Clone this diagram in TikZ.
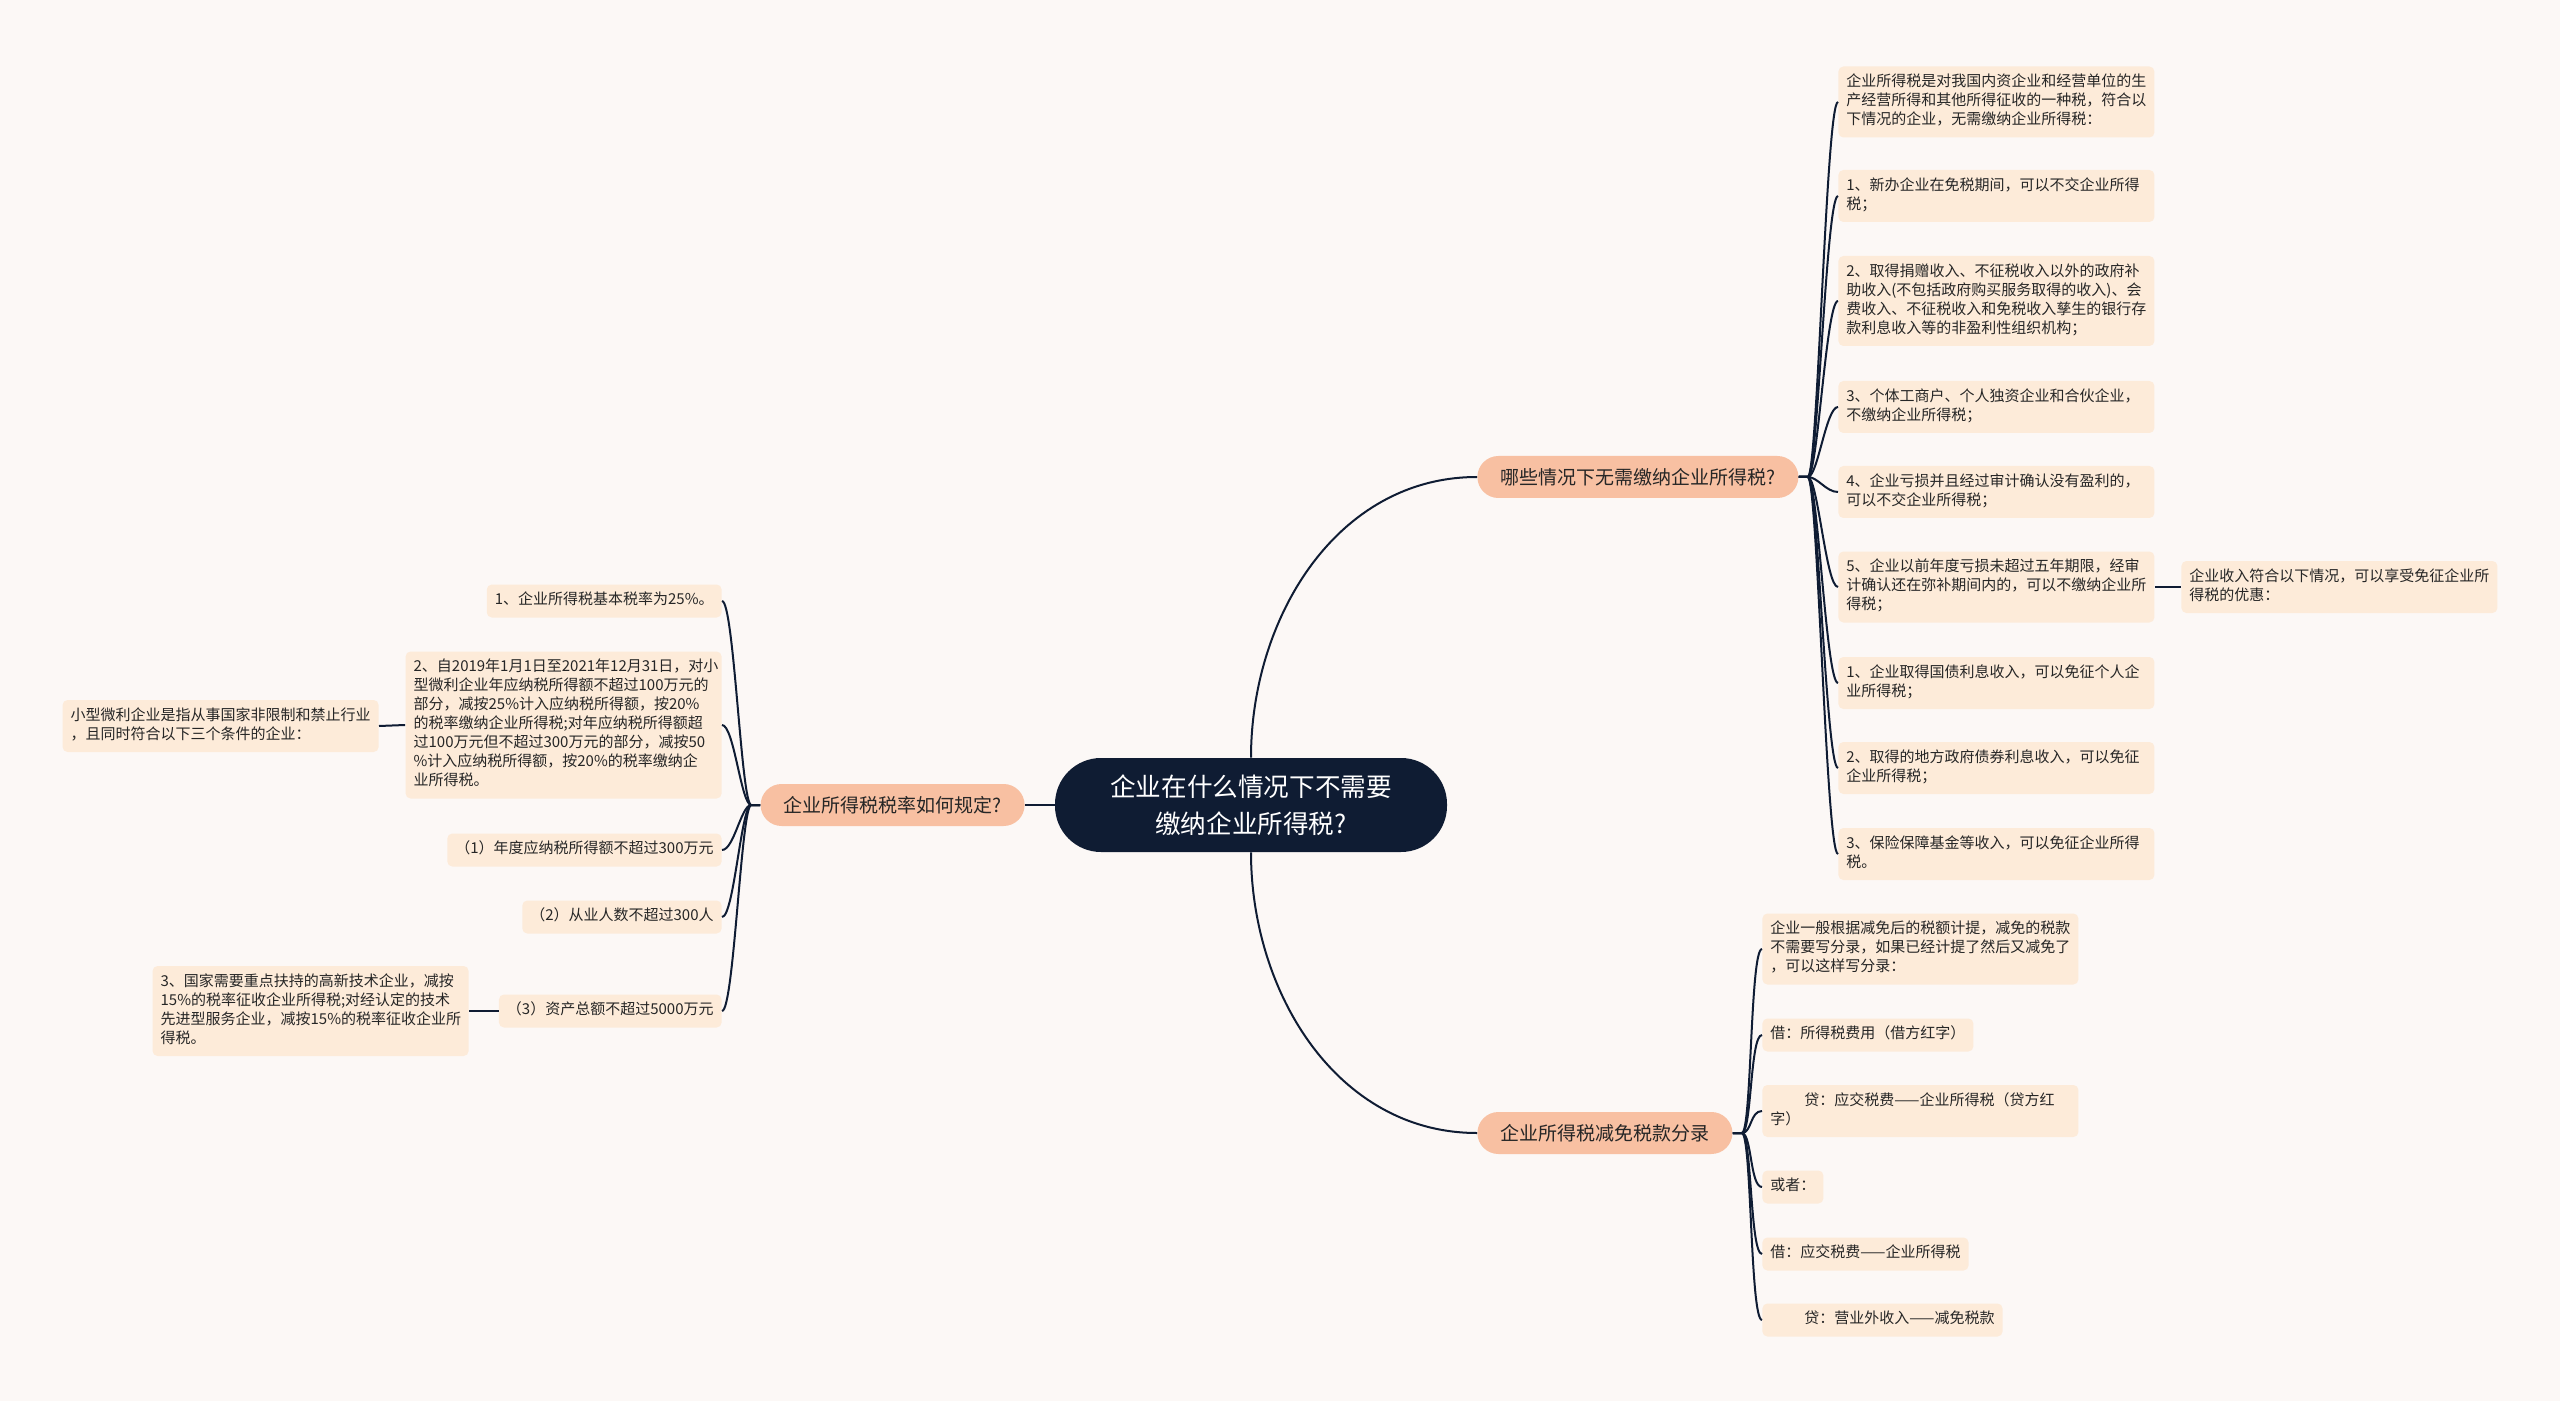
\documentclass[tikz,border=0pt]{standalone}
\usepackage{fontspec}
\setmainfont{Noto Sans CJK SC}
\usepackage{xcolor}
\definecolor{bgc}{HTML}{FCF8F6}
\definecolor{rootc}{HTML}{0F1C33}
\definecolor{topicc}{HTML}{F8C0A2}
\definecolor{leafc}{HTML}{FDEBD9}
\definecolor{linec}{HTML}{0F1C33}
\definecolor{textc}{HTML}{262626}
\newcommand\rootfont{\fontsize{12.8pt}{18.5pt}\selectfont}
\newcommand\topicfont{\fontsize{9.5pt}{12pt}\selectfont}
\newcommand\leaffont{\fontsize{7.5pt}{9.5pt}\selectfont}
\tikzset{
  rootnode/.style={fill=rootc,text=white,font=\rootfont,align=center,minimum width=196pt,minimum height=47pt,rounded corners=23pt},
  topicnode/.style={fill=topicc,text=textc,font=\topicfont,minimum height=21pt,inner xsep=11.5pt,rounded corners=10.5pt},
  leafnode/.style={fill=leafc,text=textc,font=\leaffont,align=left,inner xsep=4pt,inner ysep=3.5pt,rounded corners=2.5pt,
    execute at begin node=\strut,execute at end node=\strut},
  wideleaf/.style={leafnode,text width=150pt},
  link/.style={draw=linec,line width=1pt},
  every edge/.style={link},
  toright/.style={to path={-- ++(9,0) .. controls +(10,0) and +(-12,0) .. (\tikztotarget)}},
  toleft/.style={to path={-- ++(-9,0) .. controls +(-10,0) and +(12,0) .. (\tikztotarget)}},
}

\begin{document}
\begin{tikzpicture}[x=0.5pt,y=-0.5pt]

\fill[bgc] (0,0) rectangle (2560,1401);
\useasboundingbox (0,0) rectangle (2560,1401);

\node[rootnode] (root) at (1251,805) {企业在什么情况下不需要\\缴纳企业所得税?};
\node[topicnode,anchor=west] (why) at (1477,477) {哪些情况下无需缴纳企业所得税?};
\node[topicnode,anchor=east] (rate) at (1025,805) {企业所得税税率如何规定?};
\node[topicnode,anchor=west] (entry) at (1477,1133) {企业所得税减免税款分录};

% right, upper branch
\node[wideleaf,anchor=west] (w1) at (1838,102) {企业所得税是对我国内资企业和经营单位的生\\产经营所得和其他所得征收的一种税，符合以\\下情况的企业，无需缴纳企业所得税：};
\node[wideleaf,anchor=west] (w2) at (1838,196) {1、新办企业在免税期间，可以不交企业所得\\税；};
\node[wideleaf,anchor=west] (w3) at (1838,301) {2、取得捐赠收入、不征税收入以外的政府补\\助收入(不包括政府购买服务取得的收入)、会\\费收入、不征税收入和免税收入孳生的银行存\\款利息收入等的非盈利性组织机构；};
\node[wideleaf,anchor=west] (w4) at (1838,407) {3、个体工商户、个人独资企业和合伙企业，\\不缴纳企业所得税；};
\node[wideleaf,anchor=west] (w5) at (1838,492) {4、企业亏损并且经过审计确认没有盈利的，\\可以不交企业所得税；};
\node[wideleaf,anchor=west] (w6) at (1838,587) {5、企业以前年度亏损未超过五年期限，经审\\计确认还在弥补期间内的，可以不缴纳企业所\\得税；};
\node[wideleaf,anchor=west] (w6a) at (2181,587) {企业收入符合以下情况，可以享受免征企业所\\得税的优惠：};
\node[wideleaf,anchor=west] (w7) at (1838,683) {1、企业取得国债利息收入，可以免征个人企\\业所得税；};
\node[wideleaf,anchor=west] (w8) at (1838,768) {2、取得的地方政府债券利息收入，可以免征\\企业所得税；};
\node[wideleaf,anchor=west] (w9) at (1838,854) {3、保险保障基金等收入，可以免征企业所得\\税。};

% left branch
\node[leafnode,anchor=east] (r1) at (722,601) {1、企业所得税基本税率为25\%。};
\node[wideleaf,anchor=east] (r2) at (722,725) {2、自2019年1月1日至2021年12月31日，对小\\型微利企业年应纳税所得额不超过100万元的\\部分，减按25\%计入应纳税所得额，按20\%\\的税率缴纳企业所得税;对年应纳税所得额超\\过100万元但不超过300万元的部分，减按50\\\%计入应纳税所得额，按20\%的税率缴纳企\\业所得税。};
\node[wideleaf,anchor=east] (r2a) at (379,726) {小型微利企业是指从事国家非限制和禁止行业\\，且同时符合以下三个条件的企业：};
\node[leafnode,anchor=east] (r3) at (722,850) {（1）年度应纳税所得额不超过300万元};
\node[leafnode,anchor=east] (r4) at (722,917) {（2）从业人数不超过300人};
\node[leafnode,anchor=east] (r5) at (722,1011) {（3）资产总额不超过5000万元};
\node[wideleaf,anchor=east] (r5a) at (469,1011) {3、国家需要重点扶持的高新技术企业，减按\\15\%的税率征收企业所得税;对经认定的技术\\先进型服务企业，减按15\%的税率征收企业所\\得税。};

% right, lower branch
\node[wideleaf,anchor=west] (e1) at (1762,949) {企业一般根据减免后的税额计提，减免的税款\\不需要写分录，如果已经计提了然后又减免了\\，可以这样写分录：};
\node[leafnode,anchor=west] (e2) at (1762,1035) {借：所得税费用（借方红字）};
\node[wideleaf,anchor=west] (e3) at (1762,1111) {\hspace*{17pt}贷：应交税费——企业所得税（贷方红\\字）};
\node[leafnode,anchor=west] (e4) at (1762,1187) {或者：};
\node[leafnode,anchor=west] (e5) at (1762,1254) {借：应交税费——企业所得税};
\node[leafnode,anchor=west] (e6) at (1762,1320) {\hspace*{17pt}贷：营业外收入——减免税款};

\draw[link] (root.north) .. controls +(0,-140) and +(-140,0) .. (why.west);
\draw[link] (root.south) .. controls +(0,140) and +(-140,0) .. (entry.west);
\draw[link] (root.west) -- (rate.east);

\path (why.east)
  edge[toright] (w1.west) edge[toright] (w2.west) edge[toright] (w3.west)
  edge[toright] (w4.west) edge[toright] (w5.west) edge[toright] (w6.west)
  edge[toright] (w7.west) edge[toright] (w8.west) edge[toright] (w9.west);
\path (rate.west)
  edge[toleft] (r1.east) edge[toleft] (r2.east) edge[toleft] (r3.east)
  edge[toleft] (r4.east) edge[toleft] (r5.east);
\path (entry.east)
  edge[toright] (e1.west) edge[toright] (e2.west) edge[toright] (e3.west)
  edge[toright] (e4.west) edge[toright] (e5.west) edge[toright] (e6.west);

\draw[link] (w6.east) -- (w6a.west);
\draw[link] (r2.west) -- (r2a.east);
\draw[link] (r5.west) -- (r5a.east);

\end{tikzpicture}
\end{document}
